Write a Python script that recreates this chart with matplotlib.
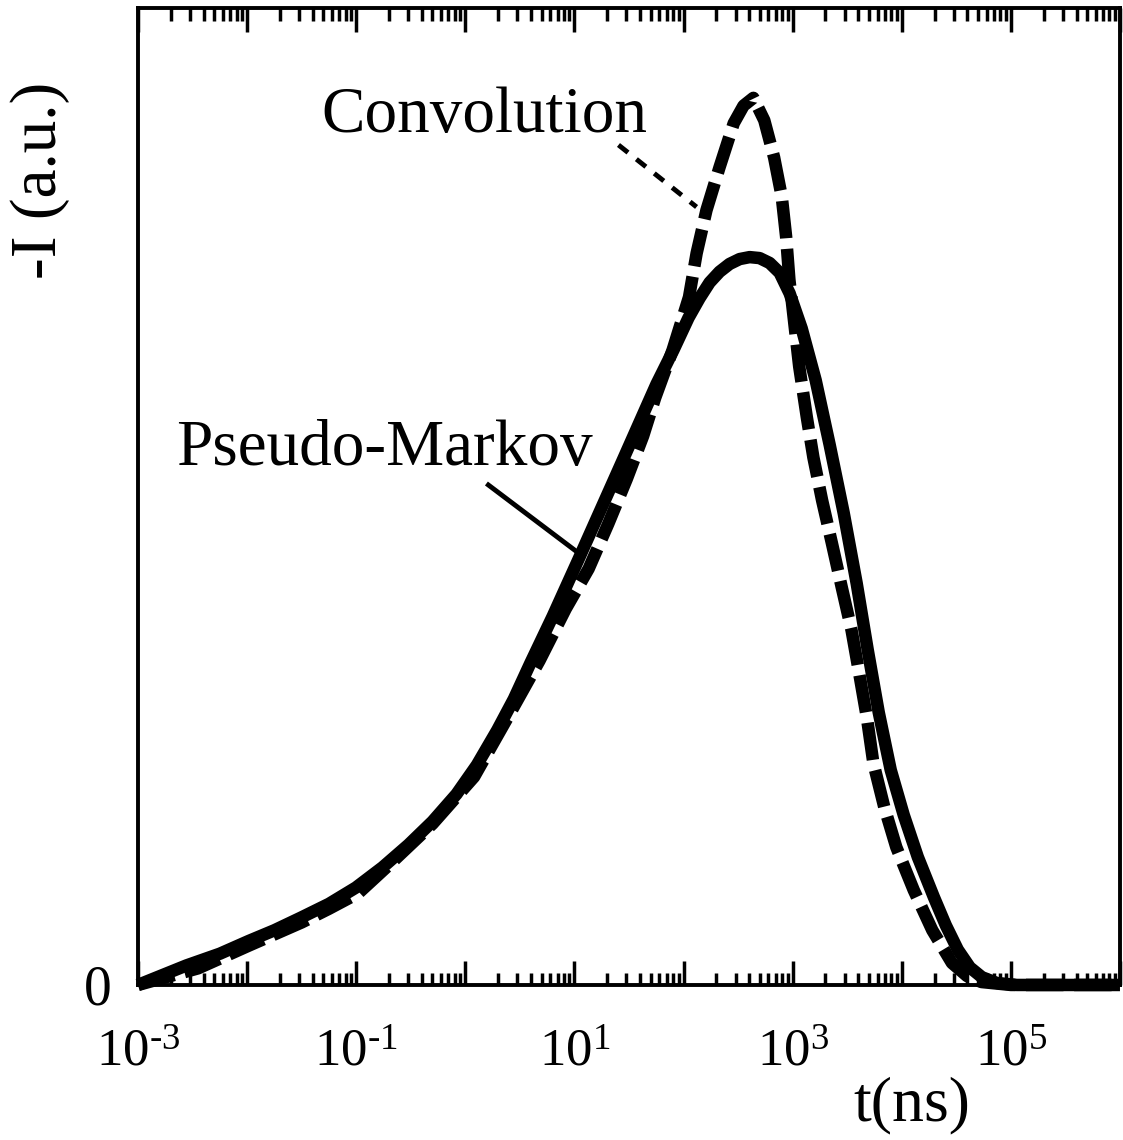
import numpy as np
import matplotlib
matplotlib.use("Agg")
import matplotlib.pyplot as plt
from matplotlib.ticker import LogLocator, NullFormatter

plt.rcParams['font.family'] = ['Liberation Serif', 'DejaVu Serif']
plt.rcParams['mathtext.fontset'] = 'custom'
plt.rcParams['mathtext.rm'] = 'Liberation Serif'
plt.rcParams['mathtext.it'] = 'Liberation Serif:italic'

# curves: log10(t / ns) and intensity (a.u., 0..1)
markov_logt = [-3.0, -2.556, -2.25, -1.986, -1.75, -1.505, -1.25, -1.003, -0.759, -0.521,
               -0.301, -0.081, 0.106, 0.293, 0.445, 0.597, 0.801, 1.039, 1.445, 1.752,
               1.908, 2.046, 2.147, 2.239, 2.330, 2.422, 2.514, 2.606, 2.697, 2.789,
               2.881, 2.972, 3.083, 3.211, 3.339, 3.468, 3.587, 3.688, 3.789, 3.899,
               4.018, 4.147, 4.294, 4.404, 4.514, 4.624, 4.734, 4.872, 5.055, 6.0]
markov_I = [0.0, 0.020, 0.032, 0.045, 0.056, 0.069, 0.083, 0.0997, 0.1204, 0.1435,
            0.1673, 0.1953, 0.2251, 0.2609, 0.2928, 0.3296, 0.3774, 0.4361, 0.5377, 0.615,
            0.650, 0.683, 0.703, 0.719, 0.730, 0.738, 0.743, 0.745, 0.744, 0.739,
            0.729, 0.708, 0.672, 0.619, 0.553, 0.483, 0.411, 0.343, 0.279, 0.220,
            0.174, 0.131, 0.090, 0.061, 0.036, 0.018, 0.008, 0.002, 0.0, 0.0]

conv_logt = [-3.0, -2.45, -1.99, -1.50, -1.25, -0.98, -0.65, -0.30, 0.08, 0.42,
             0.68, 0.92, 1.13, 1.31, 1.48, 1.63, 1.74, 1.90, 2.05, 2.12,
             2.21, 2.33, 2.46, 2.55, 2.64, 2.74, 2.83, 2.90, 2.94, 2.97,
             3.06, 3.13, 3.19, 3.27, 3.36, 3.45, 3.54, 3.61, 3.68, 3.74,
             3.84, 3.95, 4.11, 4.28, 4.46, 4.60, 4.73, 5.0, 6.0]
conv_I = [0.0, 0.017, 0.040, 0.064, 0.078, 0.094, 0.128, 0.165, 0.213, 0.280,
          0.332, 0.385, 0.426, 0.472, 0.518, 0.562, 0.601, 0.650, 0.704, 0.749,
          0.793, 0.837, 0.882, 0.900, 0.908, 0.885, 0.847, 0.807, 0.766, 0.722,
          0.633, 0.581, 0.540, 0.496, 0.452, 0.407, 0.363, 0.319, 0.274, 0.227,
          0.182, 0.141, 0.097, 0.056, 0.0225, 0.009, 0.003, 0.0, 0.0]

label_exps = [-3, -1, 1, 3, 5]


def px_to_data(x, y):
    # helper for placing the annotations (pixel coords)
    return 10 ** (-3 + (x - 137) / 109.0), (985 - y) / 977.0


fig = plt.figure(figsize=(11.23, 11.40), dpi=100)
ax = fig.add_axes([0.1229, 0.136, 0.8744, 0.857])

ax.plot(10 ** np.array(markov_logt), markov_I, color='black', lw=9,
        solid_capstyle='butt', solid_joinstyle='round', clip_on=False, zorder=3)
ax.plot(10 ** np.array(conv_logt), conv_I, color='black', lw=9,
        linestyle=(0, (3.0, 0.85)), dash_capstyle='butt', dash_joinstyle='round',
        clip_on=False, zorder=2)

ax.set_xscale('log')
ax.set_xlim(1e-3, 1e6)
ax.set_ylim(0, 1)

decades = list(range(-3, 7))
ax.set_xticks([10.0 ** k for k in decades])
ax.set_xticklabels([(r'$10^{\text{-}%d}$' % -k if k < 0 else r'$10^{%d}$' % k)
                    if k in label_exps else '' for k in decades])
ax.xaxis.set_minor_locator(LogLocator(base=10, subs=np.arange(2, 10), numticks=100))
ax.xaxis.set_minor_formatter(NullFormatter())
ax.tick_params(axis='x', which='major', direction='in', length=17, width=2.5,
               top=True, bottom=True, labelsize=38, pad=32)
ax.tick_params(axis='x', which='minor', direction='in', length=9, width=2.5,
               top=True, bottom=True)

ax.set_yticks([0])
ax.set_yticklabels(['0'])
ax.tick_params(axis='y', length=0, labelsize=40, pad=19)

for s in ax.spines.values():
    s.set_linewidth(2.8)

ax.set_ylabel('-I (a.u.)', fontsize=47)
ax.yaxis.set_label_coords(-0.069, 0.824)
ax.set_xlabel('t(ns)', fontsize=46)
ax.xaxis.set_label_coords(0.788, -0.094)

# labels with leader lines
ax.text(*px_to_data(320, 132), 'Convolution', fontsize=47, ha='left', va='baseline')
x0, y0 = px_to_data(617, 145)
x1, y1 = px_to_data(695, 207)
ax.plot([x0, x1], [y0, y1], color='black', lw=3.5, linestyle=(0, (2.5, 2.2)))

ax.text(*px_to_data(175, 465), 'Pseudo-Markov', fontsize=47, ha='left', va='baseline')
x0, y0 = px_to_data(487, 485)
x1, y1 = px_to_data(577, 553)
ax.plot([x0, x1], [y0, y1], color='black', lw=3.5)

fig.savefig('out.png', dpi=100)
